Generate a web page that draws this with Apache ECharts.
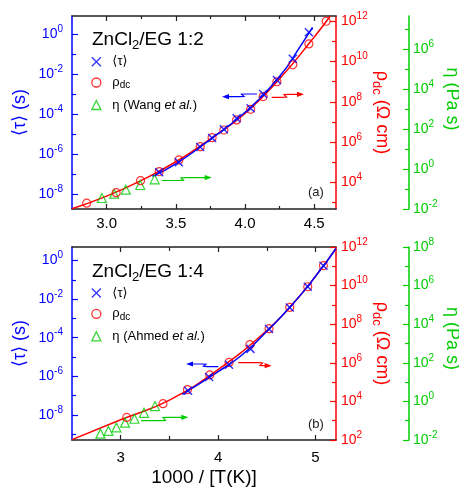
<!DOCTYPE html>
<html><head><meta charset="utf-8">
<script src="https://cdn.jsdelivr.net/npm/echarts@6/dist/echarts.min.js"></script>
<style>html,body{margin:0;padding:0;background:#fff}#c{width:459px;height:489px}</style>
</head><body><div id="c"></div>
<script>
// ---------- data (x = 1000/T ; values are log10) ----------
// Panel (a) ZnCl2/EG 1:2
const xTauA   = [3.380,3.522,3.676,3.762,3.847,3.939,4.040,4.131,4.230,4.345,4.461];
const logTauA = [-6.90,-6.40,-5.635,-5.185,-4.75,-4.20,-3.70,-2.985,-2.285,-1.22,0.10];
const xRhoA   = [2.856,3.069,3.245,3.380,3.522,3.676,3.762,3.847,3.939,4.040,4.131,4.230,4.345,4.461,4.586];
const logRhoA = [2.96,3.48,4.08,4.53,5.11,5.77,6.22,6.60,7.10,7.63,8.26,9.00,9.84,10.88,12.01];
const xEtaA   = [2.966,3.055,3.139,3.243,3.347];
const logEtaA = [-1.45,-1.235,-1.035,-0.80,-0.515];
// fit curves
const xFitRhoA   = [2.75,3.0,3.25,3.5,3.75,4.0,4.25,4.5,4.616];
const logFitRhoA = [2.68,3.31,4.09,5.02,6.16,7.42,9.15,11.23,12.27];
const xFitTauA   = [3.33,3.5,3.75,4.0,4.25,4.4,4.487];
const logFitTauA = [-7.10,-6.48,-5.25,-3.90,-2.10,-0.59,0.35];

// Panel (b) ZnCl2/EG 1:4
const xTauB   = [3.691,3.907,4.112,4.332,4.523,4.735,4.920,5.081];
const logTauB = [-6.75,-6.04,-5.40,-4.58,-3.55,-2.43,-1.36,-0.27];
const xRhoB   = [3.062,3.434,3.685,3.914,4.112,4.325,4.523,4.735,4.920,5.081];
const logRhoB = [3.17,3.88,4.61,5.37,6.02,6.94,7.77,8.87,9.94,11.03];
const xEtaB   = [2.792,2.874,2.956,3.044,3.141,3.239,3.352];
const logEtaB = [-1.67,-1.53,-1.35,-1.10,-0.90,-0.59,-0.24];
const xFitRhoB   = [2.5,3.0,3.5,4.0,4.5,4.75,5.0,5.21];
const logFitRhoB = [2.02,3.05,4.07,5.65,7.67,8.95,10.48,11.92];
const xFitTauB   = [3.63,4.0,4.25,4.5,4.75,5.0,5.21];
const logFitTauB = [-6.94,-5.76,-4.87,-3.67,-2.35,-0.82,0.62];

// tick values
const xMajorA = [3.0,3.5,4.0,4.5], xMinorA = [3.25,3.75,4.25];
const xMajorB = [3,4,5], xMinorB = [3.5,4.5];
const tauMajor = [-8,-6,-4,-2,0];
const tauMinorA = [-7,-5,-3,-1], tauMinorB = [-9,-7,-5,-3,-1];
const rhoMajorA = [4,6,8,10,12], rhoMajorB = [2,4,6,8,10,12], rhoMinor = [3,5,7,9,11];
const etaMajorA = [-2,0,2,4,6], etaMajorB = [-2,0,2,4,6,8];
const etaMinorA = [-1,1,3,5,7], etaMinorB = [-1,1,3,5,7];

// ---------- styling ----------
const FONT = '"Liberation Sans", Arial, Helvetica, "DejaVu Sans", sans-serif';
const BLUE = '#0000ff', RED = '#ff0000', GREEN = '#00cc00', DARK = '#222';

const zip = (xs, ys) => xs.map((x, i) => [x, ys[i]]);
const powFmt = v => '{b|10}{s|' + Math.round(v) + '}';
const powRich = c => ({
  b: {fontSize: 14, lineHeight: 20, color: c, fontFamily: FONT},
  s: {fontSize: 10, lineHeight: 10, verticalAlign: 'top', color: c, fontFamily: FONT}
});

const xAxes = [], yAxes = [];
function addX(grid, min, max, majors, minors, fmt, margin, name) {
  const base = {gridIndex: grid, type: 'value', min, max, splitLine: {show: false}};
  const tick = (vals, len) => ({show: true, inside: true, length: len, customValues: vals, lineStyle: {color: DARK, width: 1.2}});
  xAxes.push(Object.assign({}, base, {
    position: 'bottom',
    axisLine: {show: true, onZero: false, lineStyle: {color: DARK, width: 1.5}},
    axisTick: tick(majors, 5),
    axisLabel: {show: true, customValues: majors, formatter: fmt, margin, color: '#000', fontSize: 15, fontFamily: FONT},
    name: name || '', nameLocation: 'middle', nameGap: 28, nameMoveOverlap: false,
    nameTextStyle: {color: '#000', fontSize: 19, fontFamily: FONT}
  }));
  xAxes.push(Object.assign({}, base, {
    position: 'top',
    axisLine: {show: true, onZero: false, lineStyle: {color: DARK, width: 1.5}},
    axisTick: tick(majors, 5), axisLabel: {show: false}
  }));
  xAxes.push(Object.assign({}, base, {
    position: 'bottom', axisLine: {show: false, onZero: false},
    axisTick: tick(minors, grid === 0 ? 3 : 4), axisLabel: {show: false}
  }));
  xAxes.push(Object.assign({}, base, {
    position: 'top', axisLine: {show: false, onZero: false},
    axisTick: tick(minors, grid === 0 ? 3 : 4), axisLabel: {show: false}
  }));
}
function addY(grid, pos, offset, min, max, color, majors, minors, name, rot, gap, pad, margin) {
  const base = {gridIndex: grid, type: 'value', position: pos, offset, min, max, splitLine: {show: false}};
  yAxes.push(Object.assign({}, base, {
    axisLine: {show: true, onZero: false, lineStyle: {color, width: 1.5}},
    axisTick: {show: true, inside: true, length: 6, customValues: majors, lineStyle: {color, width: 1.2}},
    axisLabel: {show: true, customValues: majors, formatter: powFmt, margin, rich: powRich(color)},
    name, nameLocation: 'middle', nameRotate: rot, nameGap: gap, nameMoveOverlap: false,
    nameTextStyle: {color, fontSize: 18, fontFamily: FONT, lineHeight: 24, padding: pad,
      rich: {sub: {fontSize: 13, lineHeight: 14, verticalAlign: 'bottom', color, fontFamily: FONT}}}
  }));
  yAxes.push(Object.assign({}, base, {
    axisLine: {show: false, onZero: false},
    axisTick: {show: true, inside: true, length: 4, customValues: minors, lineStyle: {color, width: 1.2}},
    axisLabel: {show: false}
  }));
}

const TAU_NAME = '⟨τ⟩ (s)', RHO_NAME = 'ρ{sub|dc} (Ω cm)', ETA_NAME = 'η (Pa s)';

// panel a : x axes 0..3, y axes 0..5
addX(0, 2.75, 4.657, xMajorA, xMinorA, v => v.toFixed(1), 7, '');
addY(0, 'left', 0, -8.735, 0.915, BLUE, tauMajor, tauMinorA, TAU_NAME, 90, 40, 0, 9);
addY(0, 'right', 0, 2.67, 12.27, RED, rhoMajorA, rhoMinor, RHO_NAME, -90, 34, 0, 5);
addY(0, 'right', 73, -2, 7.65, GREEN, etaMajorA, etaMinorA, ETA_NAME, -90, 31, [0, 27, 0, 0], 4);
// panel b : x axes 4..7, y axes 6..11
addX(1, 2.5, 5.21, xMajorB, xMinorB, v => String(v), 10, '1000 / [T(K)]');
addY(1, 'left', 0, -9.3, 0.7, BLUE, tauMajor, tauMinorB, TAU_NAME, 90, 40, 0, 9);
addY(1, 'right', 0, 2, 12, RED, rhoMajorB, rhoMinor, RHO_NAME, -90, 34, 0, 5);
addY(1, 'right', 73, -2, 8, GREEN, etaMajorB, etaMinorB, ETA_NAME, -90, 31, [0, 10, 0, 0], 4);

const CROSS = 'path://M0,0L10,10M10,0L0,10';
function panelSeries(p, xi, yTau, yRho, yEta, d) {
  return [
    {type: 'line', name: 'fitRho' + p, xAxisIndex: xi, yAxisIndex: yRho, data: zip(d.xfr, d.lfr),
     smooth: true, showSymbol: false, silent: true, lineStyle: {color: RED, width: 1.5}, z: 2},
    {type: 'line', name: 'fitTau' + p, xAxisIndex: xi, yAxisIndex: yTau, data: zip(d.xft, d.lft),
     smooth: true, showSymbol: false, silent: true, lineStyle: {color: BLUE, width: 1.5}, z: 3},
    {type: 'scatter', name: 'eta' + p, xAxisIndex: xi, yAxisIndex: yEta, data: zip(d.xe, d.le),
     symbol: 'triangle', symbolSize: 9, itemStyle: {color: 'rgba(0,0,0,0)', borderColor: GREEN, borderWidth: 1.2}, z: 4},
    {type: 'scatter', name: 'rho' + p, xAxisIndex: xi, yAxisIndex: yRho, data: zip(d.xr, d.lr),
     symbol: 'circle', symbolSize: 8, itemStyle: {color: 'rgba(0,0,0,0)', borderColor: RED, borderWidth: 1.2}, z: 5},
    {type: 'scatter', name: 'tau' + p, xAxisIndex: xi, yAxisIndex: yTau, data: zip(d.xt, d.lt),
     symbol: CROSS, symbolSize: 8, itemStyle: {color: BLUE, borderColor: BLUE, borderWidth: 1.5}, z: 6}
  ];
}

const LEG_TXT = {
  tauA: '⟨τ⟩', rhoA: 'ρ{sub|dc}', etaA: 'η (Wang {it|et al.})',
  tauB: '⟨τ⟩', rhoB: 'ρ{sub|dc}', etaB: 'η (Ahmed {it|et al.})'
};
function leg(name, top) {
  return {show: true, data: [name], left: 91.2, top, orient: 'vertical', itemWidth: 9, itemHeight: 9,
    padding: 0, selectedMode: false, formatter: n => LEG_TXT[n], itemStyle: {borderWidth: 1.3},
    textStyle: {color: '#000', fontSize: 13, fontFamily: FONT, lineHeight: 16, padding: [0, 0, 0, 6.5],
      rich: {sub: {fontSize: 10, lineHeight: 11, verticalAlign: 'bottom', color: '#000', fontFamily: FONT},
             it: {fontStyle: 'italic', fontSize: 13, color: '#000', fontFamily: FONT}}}};
}

function arrow(pts, tip, color) {
  const last = pts[pts.length - 1];
  const dir = Math.sign(tip[0] - last[0]);
  return [
    {type: 'polyline', silent: true, shape: {points: pts.concat([[tip[0] - dir * 3, tip[1]]])},
     style: {stroke: color, lineWidth: 1.2, fill: 'none'}},
    {type: 'polygon', silent: true, shape: {points: [tip, [tip[0] - dir * 7, tip[1] - 2.6], [tip[0] - dir * 7, tip[1] + 2.6]]},
     style: {fill: color}}
  ];
}
function title(txt, y) {
  return {type: 'text', x: 92, y, silent: true,
    style: {text: txt, fontSize: 19, fontFamily: FONT, fill: '#000', verticalAlign: 'middle', lineHeight: 24,
      rich: {s: {fontSize: 13, lineHeight: 13, verticalAlign: 'bottom', fill: '#000', fontFamily: FONT}}}};
}
function tag(txt, y) {
  return {type: 'text', x: 308, y, silent: true,
    style: {text: txt, fontSize: 13, fontFamily: FONT, fill: '#222', verticalAlign: 'middle'}};
}

const graphic = [].concat(
  title('ZnCl{s|2}/EG 1:2', 40), title('ZnCl{s|2}/EG 1:4', 271.5),
  tag('(a)', 192), tag('(b)', 424),
  arrow([[257, 94], [245, 94], [241.5, 94.2], [244, 96.4], [239.5, 96.7], [228, 96.7]], [222, 96.7], BLUE),
  arrow([[271.7, 97.3], [283, 97.3], [286.5, 97], [284, 94.6], [288.5, 94.3], [298, 94.3]], [304, 94.3], RED),
  arrow([[161.7, 180.5], [180, 180.5], [183.5, 180.2], [181, 177.9], [185.5, 177.6], [205, 177.6]], [211.7, 177.6], GREEN),
  arrow([[218.3, 366.7], [207, 366.7], [203.5, 366.4], [206, 364.3], [202, 364], [192, 364]], [186, 364], BLUE),
  arrow([[238.3, 362.7], [259, 362.7], [262.5, 363], [260, 365.4], [264.5, 365.7], [266, 365.7]], [271.7, 365.7], RED),
  arrow([[141, 420.7], [162, 420.7], [165.5, 420.4], [163, 417.6], [167.5, 417.3], [182, 417.3]], [188.3, 417.3], GREEN)
);

const option = {
  animation: false,
  backgroundColor: '#fff',
  grid: [
    {left: 72, top: 16, width: 264, height: 193, outerBoundsMode: 'none', containLabel: false},
    {left: 72, top: 247, width: 264, height: 193, outerBoundsMode: 'none', containLabel: false}
  ],
  xAxis: xAxes,
  yAxis: yAxes,
  legend: [leg('tauA', 53.7), leg('rhoA', 74.5), leg('etaA', 97), leg('tauB', 285), leg('rhoB', 305.8), leg('etaB', 328.3)],
  series: [].concat(
    panelSeries('A', 0, 0, 2, 4, {xfr: xFitRhoA, lfr: logFitRhoA, xft: xFitTauA, lft: logFitTauA,
      xe: xEtaA, le: logEtaA, xr: xRhoA, lr: logRhoA, xt: xTauA, lt: logTauA}),
    panelSeries('B', 4, 6, 8, 10, {xfr: xFitRhoB, lfr: logFitRhoB, xft: xFitTauB, lft: logFitTauB,
      xe: xEtaB, le: logEtaB, xr: xRhoB, lr: logRhoB, xt: xTauB, lt: logTauB})
  ),
  graphic
};
const chart = echarts.init(document.getElementById('c'), null, {renderer: 'canvas'});
chart.setOption(option);
</script>
</body></html>
